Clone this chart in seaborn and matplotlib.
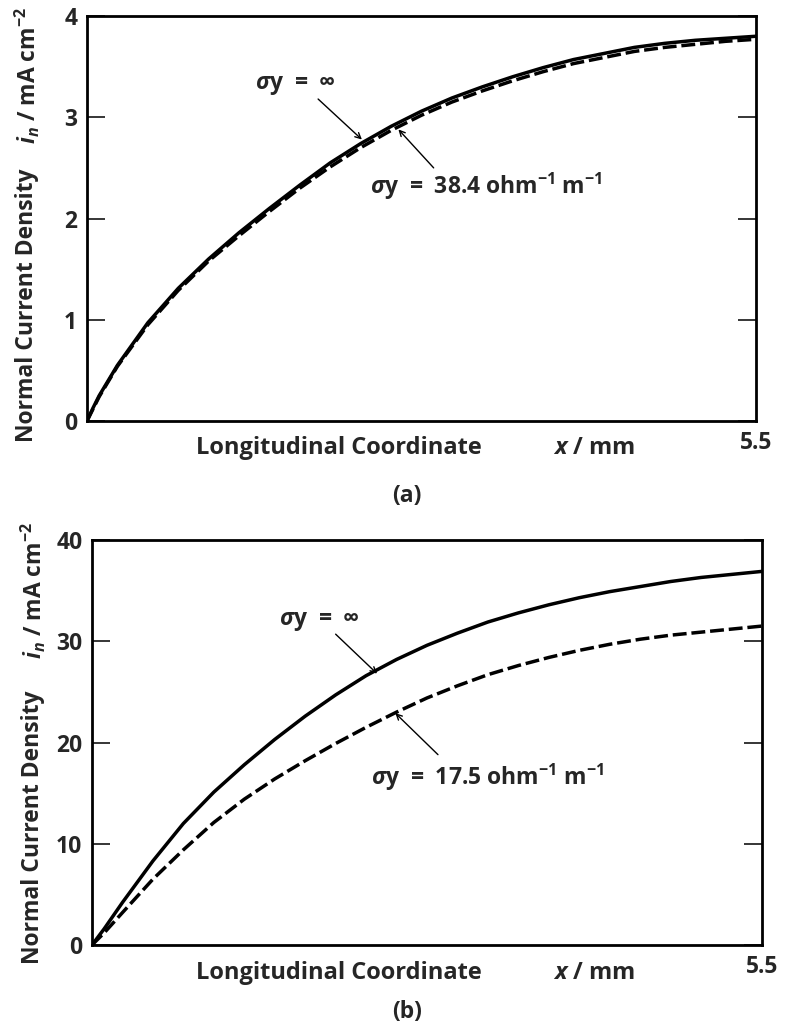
import numpy as np
import pandas as pd
import matplotlib
matplotlib.use("Agg")
import matplotlib.pyplot as plt
import seaborn as sns

# data (x in mm, i_n in mA cm^-2)
x_mm = [0, 0.05, 0.1, 0.25, 0.5, 0.75, 1.0, 1.25, 1.5, 1.75, 2.0, 2.25, 2.5,
        2.75, 3.0, 3.25, 3.5, 3.75, 4.0, 4.25, 4.5, 4.75, 5.0, 5.25, 5.5]

# panel (a): sigma_y = inf (solid) and 38.4 ohm^-1 m^-1 (dashed)
a_inf = [0, 0.13, 0.25, 0.55, 0.97, 1.31, 1.60, 1.86, 2.10, 2.33, 2.55, 2.74,
         2.91, 3.06, 3.19, 3.30, 3.40, 3.49, 3.57, 3.63, 3.69, 3.73, 3.76,
         3.78, 3.80]
a_384 = [0, 0.12, 0.24, 0.54, 0.95, 1.29, 1.58, 1.83, 2.07, 2.30, 2.51, 2.70,
         2.87, 3.02, 3.15, 3.26, 3.36, 3.45, 3.53, 3.59, 3.65, 3.69, 3.72,
         3.75, 3.77]

# panel (b): sigma_y = inf (solid) and 17.5 ohm^-1 m^-1 (dashed)
b_inf = [0, 0.8, 1.6, 4.2, 8.3, 12.0, 15.1, 17.8, 20.3, 22.6, 24.7, 26.6,
         28.2, 29.6, 30.8, 31.9, 32.8, 33.6, 34.3, 34.9, 35.4, 35.9, 36.3,
         36.6, 36.9]
b_175 = [0, 0.6, 1.2, 3.2, 6.5, 9.4, 12.1, 14.4, 16.4, 18.2, 19.9, 21.5,
         23.0, 24.4, 25.6, 26.7, 27.6, 28.4, 29.1, 29.7, 30.2, 30.6, 30.9,
         31.2, 31.5]

a_ticks = [0, 1, 2, 3, 4]
b_ticks = [0, 10, 20, 30, 40]

sns.set_style("white")
plt.rcParams['font.family'] = ['Open Sans', 'DejaVu Sans']
plt.rcParams['font.weight'] = 'bold'
plt.rcParams['mathtext.fontset'] = 'custom'
plt.rcParams['mathtext.rm'] = 'Open Sans:bold'
plt.rcParams['mathtext.bf'] = 'Open Sans:bold'
plt.rcParams['mathtext.it'] = 'Open Sans:italic'
plt.rcParams['mathtext.sf'] = 'Open Sans:italic:bold'
plt.rcParams['mathtext.default'] = 'regular'

W, H = 787, 1029
fig = plt.figure(figsize=(W / 100, H / 100), dpi=100)


def fx(px):
    return px / W


def fy(py):
    return 1 - py / H


FS = 16.5
lw = 2.5

ax1 = fig.add_axes([fx(87), fy(421), fx(756) - fx(87), fy(16) - fy(421)])
ax2 = fig.add_axes([fx(92), fy(945), fx(762) - fx(92), fy(540) - fy(945)])

dfa = pd.DataFrame({'x': x_mm, 'inf': a_inf, 'fin': a_384})
dfb = pd.DataFrame({'x': x_mm, 'inf': b_inf, 'fin': b_175})

for ax, df, ticks in [(ax1, dfa, a_ticks), (ax2, dfb, b_ticks)]:
    sns.lineplot(data=df, x='x', y='fin', ax=ax, color='black', lw=lw,
                 linestyle=(0, (4, 1.4)))
    sns.lineplot(data=df, x='x', y='inf', ax=ax, color='black', lw=lw)
    ax.set_xlim(0, 5.5)
    ax.set_ylim(ticks[0], ticks[-1])
    ax.set_yticks(ticks)
    ax.set_yticklabels([str(t) for t in ticks], fontsize=FS, fontweight='bold')
    ax.set_xticks([5.5])
    ax.set_xticklabels(['5.5'], fontsize=FS, fontweight='bold')
    ax.tick_params(axis='x', length=0, pad=7)
    ax.tick_params(axis='y', direction='in', length=13, width=1.3, pad=7,
                   right=True, left=True)
    ax.set_xlabel('')
    ax.set_ylabel('')
    for s in ax.spines.values():
        s.set_linewidth(2.0)
        s.set_color('black')

arrow = dict(arrowstyle='->', color='black', lw=1.0, shrinkA=0, shrinkB=0)
sig = r'$\mathit{\sigma}$y  =  '

# panel (a) annotations
ax1.text(1.71, 3.32, sig + '∞', ha='center', va='center', fontsize=FS,
         fontweight='bold')
ax1.annotate('', xy=(2.26, 2.78), xytext=(1.90, 3.18), arrowprops=arrow)
ax1.annotate('', xy=(2.56, 2.88), xytext=(2.85, 2.50), arrowprops=arrow)
ax1.text(2.33, 2.32, sig + r'38.4 ohm$^{-1}$ m$^{-1}$', ha='left',
         va='center', fontsize=FS, fontweight='bold')

# panel (b) annotations
ax2.text(1.87, 32.0, sig + '∞', ha='center', va='center', fontsize=FS,
         fontweight='bold')
ax2.annotate('', xy=(2.34, 26.8), xytext=(2.00, 30.7), arrowprops=arrow)
ax2.annotate('', xy=(2.49, 22.9), xytext=(2.84, 18.8), arrowprops=arrow)
ax2.text(2.29, 16.6, sig + r'17.5 ohm$^{-1}$ m$^{-1}$', ha='left',
         va='center', fontsize=FS, fontweight='bold')

# axis titles drawn as figure text
for yc, yl_main, yl_unit, x_lab, tag_y, tag in [
        (448, 305, 75, 27, 496, '(a)'),
        (973, 827, 590, 33, 1012, '(b)')]:
    fig.text(fx(339), fy(yc), 'Longitudinal Coordinate', ha='center',
             va='center', fontsize=17, fontweight='bold')
    fig.text(fx(594), fy(yc), r'$\mathsf{x}$ / mm', ha='center',
             va='center', fontsize=17, fontweight='bold')
    fig.text(fx(x_lab), fy(yl_main), 'Normal Current Density', rotation=90,
             ha='center', va='center', fontsize=FS, fontweight='bold')
    fig.text(fx(x_lab), fy(yl_unit), r'$\mathsf{i_n}$ / mA cm$^{-2}$',
             rotation=90, ha='center', va='center', fontsize=FS,
             fontweight='bold')
    fig.text(fx(407), fy(tag_y), tag, ha='center', va='center', fontsize=FS,
             fontweight='bold')

fig.savefig('out.png', dpi=100, facecolor='white')
